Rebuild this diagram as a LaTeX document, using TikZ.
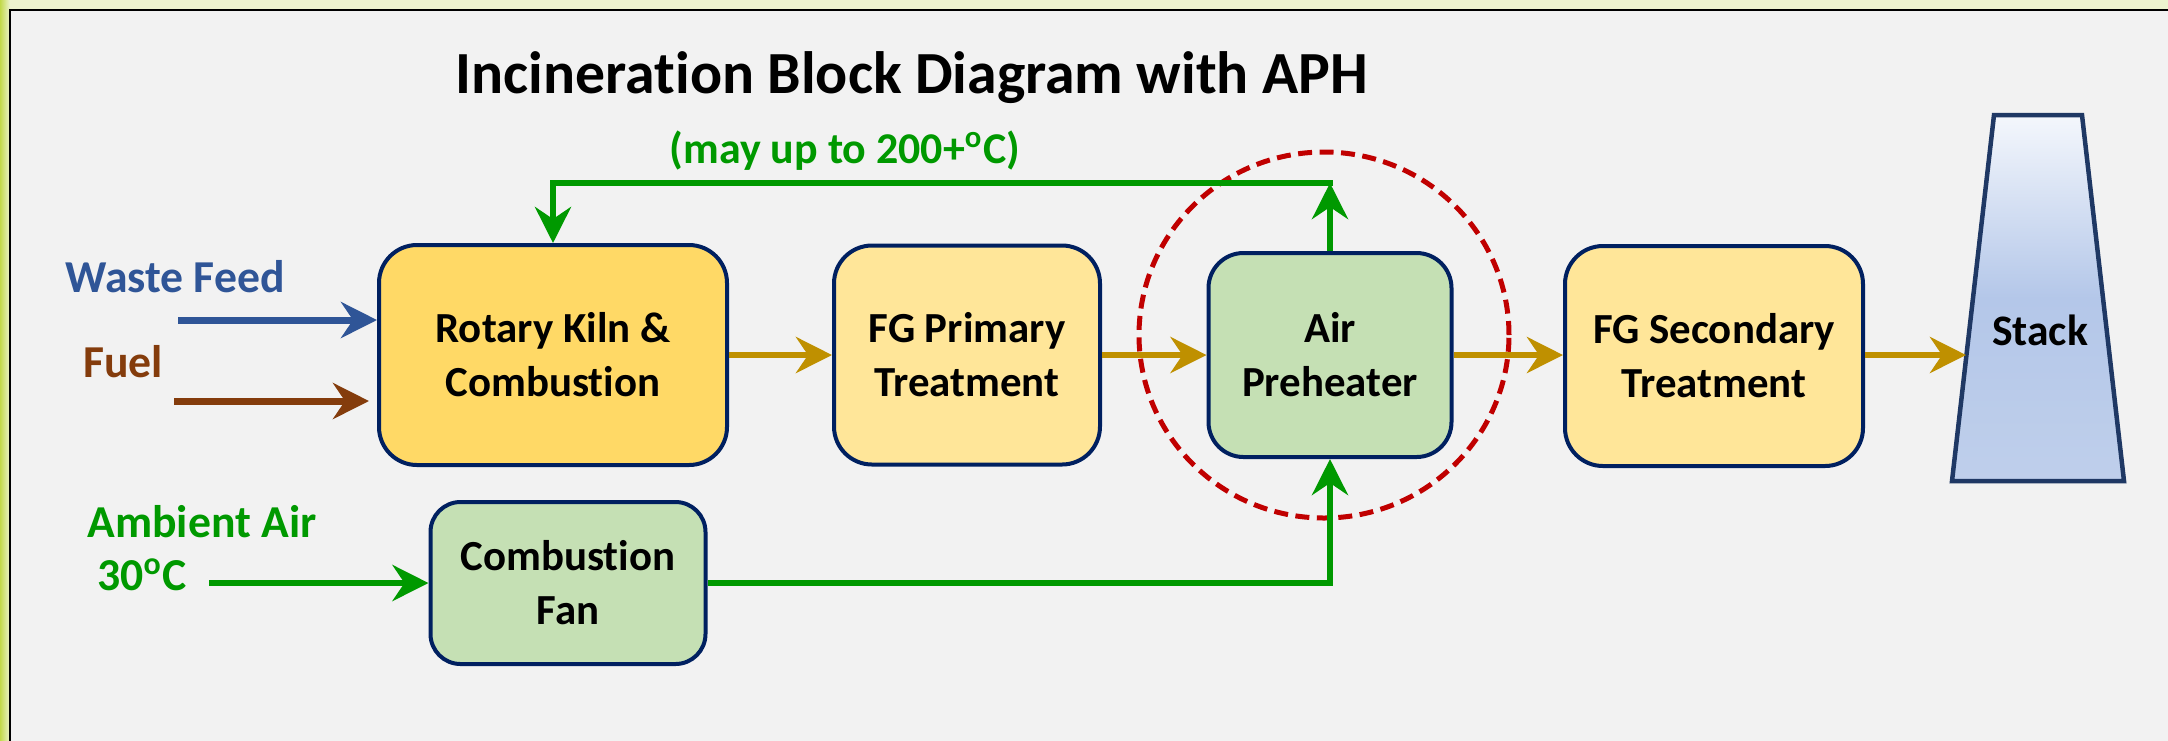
\documentclass[tikz,border=0pt]{standalone}
\usepackage{fontspec}
\setmainfont{Carlito}[Ligatures=NoCommon]
\usetikzlibrary{arrows.meta}
\definecolor{outerbg}{HTML}{EDF3CF}
\definecolor{leftbg}{HTML}{C2D94A}
\definecolor{panel}{HTML}{F2F2F2}
\definecolor{navy}{HTML}{002060}
\definecolor{kilnfill}{HTML}{FFD966}
\definecolor{treatfill}{HTML}{FFE699}
\definecolor{airfill}{HTML}{C5E0B4}
\definecolor{gasgold}{HTML}{BF9000}
\definecolor{airgreen}{HTML}{009900}
\definecolor{wasteblue}{HTML}{2F5597}
\definecolor{fuelbrown}{HTML}{843C0C}
\definecolor{aphred}{HTML}{C00000}
\definecolor{stackline}{HTML}{1F3864}
\definecolor{stacktop}{HTML}{F4F7FC}
\definecolor{stackmid}{HTML}{B4C7E9}
\definecolor{stackbot}{HTML}{BFCFEB}
\begin{document}
\begin{tikzpicture}[x=0.1mm,y=-0.1mm,
    block/.style={draw=navy, line width=0.4mm, rounded corners=3.8mm, align=center,
      inner sep=0pt, font=\fontsize{12.2}{15.4}\selectfont\bfseries},
    tip/.style={-{Stealth[length=3.6mm,width=3.6mm,inset=1.2mm]}},
    gas/.style={draw=gasgold, line width=0.65mm, tip},
    air/.style={draw=airgreen, line width=0.6mm, line join=miter, tip},
    feed/.style={font=\fontsize{13}{15}\selectfont\bfseries, anchor=base}]
    \useasboundingbox (0,0) rectangle (2168,740);
    \fill[outerbg] (0,0) rectangle (2168,740);
    \shade[left color=leftbg, right color=outerbg] (0,0) rectangle (10,740);
    \draw[line width=0.25mm, fill=panel] (10,10) rectangle (2200,780);

    \node[anchor=base, font=\fontsize{17}{19}\selectfont\bfseries] (title) at (912,93) {Incineration Block Diagram with APH};

    \node[block, fill=kilnfill, minimum width=34.8mm, minimum height=22mm] (kiln) at (553,355) {Rotary Kiln \&\\Combustion};
    \node[block, fill=treatfill, minimum width=26.6mm, minimum height=21.9mm] (fgp) at (967,355) {FG Primary\\Treatment};
    \node[block, fill=airfill, minimum width=24.3mm, minimum height=20.4mm, rounded corners=3.5mm] (aph) at (1330,355) {Air\\Preheater};
    \node[block, fill=treatfill, minimum width=29.8mm, minimum height=22mm] (fgs) at (1714,356) {FG Secondary\\Treatment};
    \node[block, fill=airfill, minimum width=27.5mm, minimum height=16.2mm, rounded corners=3mm] (fan) at (568,583) {Combustion\\Fan};

    \shade[top color=stacktop, bottom color=stackbot, middle color=stackmid] (1994,115) -- (2082,115) -- (2124,481) -- (1952,481) -- cycle;
    \draw[stackline, line width=0.45mm] (1994,115) -- (2082,115) -- (2124,481) -- (1952,481) -- cycle;
    \node[anchor=base, font=\fontsize{12.4}{15}\selectfont\bfseries] (stack) at (2040,345) {Stack};
    \coordinate (stackin) at (1966,355);

    \draw[aphred, line width=0.5mm, dash pattern=on 1.4mm off 0.75mm] (1324,335) ellipse [x radius=18.5mm, y radius=18.3mm];

    \node[feed, text=wasteblue] (waste) at (175,292) {Waste Feed};
    \node[feed, text=fuelbrown] (fuel) at (123,377) {Fuel};
    \node[feed, text=airgreen] (ambient) at (202,537) {Ambient Air};
    \node[feed, text=airgreen] (temp) at (142,590) {30\textsuperscript{o}C};
    \node[anchor=base, text=airgreen, font=\fontsize{12.5}{15}\selectfont\bfseries] (hotair) at (845,163) {(may up to 200+\textsuperscript{o}C)};

    \coordinate (wastestart) at (178,320);
    \coordinate (fuelstart) at (174,401);
    \coordinate (ambstart) at (209,583);
    \coordinate (hot) at (1330,183);

    \draw[draw=wasteblue, line width=0.7mm, tip] (wastestart) -- (wastestart -| kiln.west);
    \draw[draw=fuelbrown, line width=0.7mm, tip] (fuelstart) -- ([xshift=-0.8mm]fuelstart -| kiln.west);
    \draw[air] (ambstart) -- (fan.west);

    \draw[gas] (kiln.east) -- (fgp.west);
    \draw[gas] (fgp.east) -- (aph.west);
    \draw[gas] (aph.east) -- (aph.east -| fgs.west);
    \draw[gas] (fgs.east |- stackin) -- (stackin);

    \draw[air] (aph.north) -- (hot);
    \draw[air] ([xshift=0.3mm]hot) -- (hot -| kiln.north) -- (kiln.north);
    \draw[air] (fan.east) -- (fan.east -| aph.south) -- (aph.south);
\end{tikzpicture}
\end{document}
